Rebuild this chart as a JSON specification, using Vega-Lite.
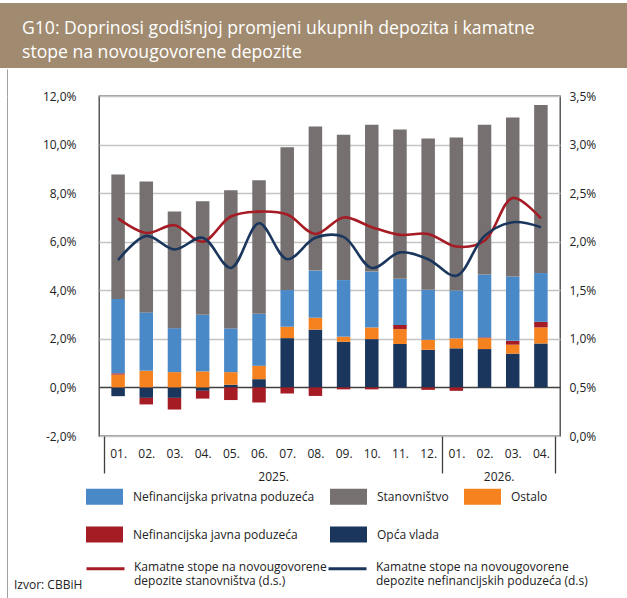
{
  "$schema": "https://vega.github.io/schema/vega-lite/v6.json",
  "padding": {"left": 0, "right": 0, "top": 3, "bottom": 0},
  "background": "white",
  "spacing": 0,
  "config": {
    "font": "Open Sans",
    "view": {"stroke": null},
    "axis": {"labelFont": "Open Sans", "labelFontSize": 12, "labelColor": "#222"},
    "legend": {"labelFont": "Open Sans", "labelFontSize": 12, "labelColor": "#222"}
  },
  "datasets": {
    "stupci": [
      {"i": 1, "sektor": "Opća vlada", "v": -0.36}, {"i": 1, "sektor": "Ostalo", "v": 0.53}, {"i": 1, "sektor": "Nefinancijska javna poduzeća", "v": 0.05}, {"i": 1, "sektor": "Nefinancijska privatna poduzeća", "v": 3.06}, {"i": 1, "sektor": "Stanovništvo", "v": 5.13},
      {"i": 2, "sektor": "Opća vlada", "v": -0.43}, {"i": 2, "sektor": "Ostalo", "v": 0.69}, {"i": 2, "sektor": "Nefinancijska javna poduzeća", "v": -0.27}, {"i": 2, "sektor": "Nefinancijska privatna poduzeća", "v": 2.40}, {"i": 2, "sektor": "Stanovništvo", "v": 5.39},
      {"i": 3, "sektor": "Opća vlada", "v": -0.43}, {"i": 3, "sektor": "Ostalo", "v": 0.63}, {"i": 3, "sektor": "Nefinancijska javna poduzeća", "v": -0.48}, {"i": 3, "sektor": "Nefinancijska privatna poduzeća", "v": 1.81}, {"i": 3, "sektor": "Stanovništvo", "v": 4.80},
      {"i": 4, "sektor": "Opća vlada", "v": -0.14}, {"i": 4, "sektor": "Ostalo", "v": 0.66}, {"i": 4, "sektor": "Nefinancijska javna poduzeća", "v": -0.32}, {"i": 4, "sektor": "Nefinancijska privatna poduzeća", "v": 2.33}, {"i": 4, "sektor": "Stanovništvo", "v": 4.68},
      {"i": 5, "sektor": "Opća vlada", "v": 0.11}, {"i": 5, "sektor": "Ostalo", "v": 0.52}, {"i": 5, "sektor": "Nefinancijska javna poduzeća", "v": -0.52}, {"i": 5, "sektor": "Nefinancijska privatna poduzeća", "v": 1.80}, {"i": 5, "sektor": "Stanovništvo", "v": 5.69},
      {"i": 6, "sektor": "Opća vlada", "v": 0.34}, {"i": 6, "sektor": "Ostalo", "v": 0.55}, {"i": 6, "sektor": "Nefinancijska javna poduzeća", "v": -0.62}, {"i": 6, "sektor": "Nefinancijska privatna poduzeća", "v": 2.14}, {"i": 6, "sektor": "Stanovništvo", "v": 5.50},
      {"i": 7, "sektor": "Opća vlada", "v": 2.03}, {"i": 7, "sektor": "Ostalo", "v": 0.47}, {"i": 7, "sektor": "Nefinancijska javna poduzeća", "v": -0.25}, {"i": 7, "sektor": "Nefinancijska privatna poduzeća", "v": 1.51}, {"i": 7, "sektor": "Stanovništvo", "v": 5.88},
      {"i": 8, "sektor": "Opća vlada", "v": 2.38}, {"i": 8, "sektor": "Ostalo", "v": 0.49}, {"i": 8, "sektor": "Nefinancijska javna poduzeća", "v": -0.35}, {"i": 8, "sektor": "Nefinancijska privatna poduzeća", "v": 1.94}, {"i": 8, "sektor": "Stanovništvo", "v": 5.93},
      {"i": 9, "sektor": "Opća vlada", "v": 1.88}, {"i": 9, "sektor": "Ostalo", "v": 0.21}, {"i": 9, "sektor": "Nefinancijska javna poduzeća", "v": -0.08}, {"i": 9, "sektor": "Nefinancijska privatna poduzeća", "v": 2.33}, {"i": 9, "sektor": "Stanovništvo", "v": 5.98},
      {"i": 10, "sektor": "Opća vlada", "v": 1.99}, {"i": 10, "sektor": "Ostalo", "v": 0.48}, {"i": 10, "sektor": "Nefinancijska javna poduzeća", "v": -0.08}, {"i": 10, "sektor": "Nefinancijska privatna poduzeća", "v": 2.30}, {"i": 10, "sektor": "Stanovništvo", "v": 6.05},
      {"i": 11, "sektor": "Opća vlada", "v": 1.79}, {"i": 11, "sektor": "Ostalo", "v": 0.61}, {"i": 11, "sektor": "Nefinancijska javna poduzeća", "v": 0.17}, {"i": 11, "sektor": "Nefinancijska privatna poduzeća", "v": 1.90}, {"i": 11, "sektor": "Stanovništvo", "v": 6.15},
      {"i": 12, "sektor": "Opća vlada", "v": 1.55}, {"i": 12, "sektor": "Ostalo", "v": 0.41}, {"i": 12, "sektor": "Nefinancijska javna poduzeća", "v": -0.10}, {"i": 12, "sektor": "Nefinancijska privatna poduzeća", "v": 2.06}, {"i": 12, "sektor": "Stanovništvo", "v": 6.23},
      {"i": 13, "sektor": "Opća vlada", "v": 1.61}, {"i": 13, "sektor": "Ostalo", "v": 0.41}, {"i": 13, "sektor": "Nefinancijska javna poduzeća", "v": -0.14}, {"i": 13, "sektor": "Nefinancijska privatna poduzeća", "v": 1.97}, {"i": 13, "sektor": "Stanovništvo", "v": 6.30},
      {"i": 14, "sektor": "Opća vlada", "v": 1.58}, {"i": 14, "sektor": "Ostalo", "v": 0.45}, {"i": 14, "sektor": "Nefinancijska javna poduzeća", "v": 0.03}, {"i": 14, "sektor": "Nefinancijska privatna poduzeća", "v": 2.59}, {"i": 14, "sektor": "Stanovništvo", "v": 6.17},
      {"i": 15, "sektor": "Opća vlada", "v": 1.39}, {"i": 15, "sektor": "Ostalo", "v": 0.37}, {"i": 15, "sektor": "Nefinancijska javna poduzeća", "v": 0.16}, {"i": 15, "sektor": "Nefinancijska privatna poduzeća", "v": 2.65}, {"i": 15, "sektor": "Stanovništvo", "v": 6.54},
      {"i": 16, "sektor": "Opća vlada", "v": 1.81}, {"i": 16, "sektor": "Ostalo", "v": 0.66}, {"i": 16, "sektor": "Nefinancijska javna poduzeća", "v": 0.23}, {"i": 16, "sektor": "Nefinancijska privatna poduzeća", "v": 2.01}, {"i": 16, "sektor": "Stanovništvo", "v": 6.92}
    ],
    "linije": [
      {"i": 1, "serija": "Kamatne stope na novougovorene depozite stanovništva (d.s.)", "r": 2.24},
      {"i": 2, "serija": "Kamatne stope na novougovorene depozite stanovništva (d.s.)", "r": 2.09},
      {"i": 3, "serija": "Kamatne stope na novougovorene depozite stanovništva (d.s.)", "r": 2.17},
      {"i": 4, "serija": "Kamatne stope na novougovorene depozite stanovništva (d.s.)", "r": 2.00},
      {"i": 5, "serija": "Kamatne stope na novougovorene depozite stanovništva (d.s.)", "r": 2.26},
      {"i": 6, "serija": "Kamatne stope na novougovorene depozite stanovništva (d.s.)", "r": 2.31},
      {"i": 7, "serija": "Kamatne stope na novougovorene depozite stanovništva (d.s.)", "r": 2.28},
      {"i": 8, "serija": "Kamatne stope na novougovorene depozite stanovništva (d.s.)", "r": 2.08},
      {"i": 9, "serija": "Kamatne stope na novougovorene depozite stanovništva (d.s.)", "r": 2.25},
      {"i": 10, "serija": "Kamatne stope na novougovorene depozite stanovništva (d.s.)", "r": 2.15},
      {"i": 11, "serija": "Kamatne stope na novougovorene depozite stanovništva (d.s.)", "r": 2.07},
      {"i": 12, "serija": "Kamatne stope na novougovorene depozite stanovništva (d.s.)", "r": 2.08},
      {"i": 13, "serija": "Kamatne stope na novougovorene depozite stanovništva (d.s.)", "r": 1.95},
      {"i": 14, "serija": "Kamatne stope na novougovorene depozite stanovništva (d.s.)", "r": 2.01},
      {"i": 15, "serija": "Kamatne stope na novougovorene depozite stanovništva (d.s.)", "r": 2.45},
      {"i": 16, "serija": "Kamatne stope na novougovorene depozite stanovništva (d.s.)", "r": 2.24},
      {"i": 1, "serija": "Kamatne stope na novougovorene depozite nefinancijskih poduzeća (d.s)", "r": 1.81},
      {"i": 2, "serija": "Kamatne stope na novougovorene depozite nefinancijskih poduzeća (d.s)", "r": 2.06},
      {"i": 3, "serija": "Kamatne stope na novougovorene depozite nefinancijskih poduzeća (d.s)", "r": 1.92},
      {"i": 4, "serija": "Kamatne stope na novougovorene depozite nefinancijskih poduzeća (d.s)", "r": 2.04},
      {"i": 5, "serija": "Kamatne stope na novougovorene depozite nefinancijskih poduzeća (d.s)", "r": 1.73},
      {"i": 6, "serija": "Kamatne stope na novougovorene depozite nefinancijskih poduzeća (d.s)", "r": 2.19},
      {"i": 7, "serija": "Kamatne stope na novougovorene depozite nefinancijskih poduzeća (d.s)", "r": 1.82},
      {"i": 8, "serija": "Kamatne stope na novougovorene depozite nefinancijskih poduzeća (d.s)", "r": 2.04},
      {"i": 9, "serija": "Kamatne stope na novougovorene depozite nefinancijskih poduzeća (d.s)", "r": 2.05},
      {"i": 10, "serija": "Kamatne stope na novougovorene depozite nefinancijskih poduzeća (d.s)", "r": 1.73},
      {"i": 11, "serija": "Kamatne stope na novougovorene depozite nefinancijskih poduzeća (d.s)", "r": 1.89},
      {"i": 12, "serija": "Kamatne stope na novougovorene depozite nefinancijskih poduzeća (d.s)", "r": 1.82},
      {"i": 13, "serija": "Kamatne stope na novougovorene depozite nefinancijskih poduzeća (d.s)", "r": 1.65},
      {"i": 14, "serija": "Kamatne stope na novougovorene depozite nefinancijskih poduzeća (d.s)", "r": 2.06},
      {"i": 15, "serija": "Kamatne stope na novougovorene depozite nefinancijskih poduzeća (d.s)", "r": 2.20},
      {"i": 16, "serija": "Kamatne stope na novougovorene depozite nefinancijskih poduzeća (d.s)", "r": 2.15}
    ]
  },
  "vconcat": [
    {
      "width": 627,
      "height": 65,
      "view": {"fill": "#A18B70", "stroke": null},
      "data": {"values": [{}]},
      "mark": {"type": "rect", "color": "#A18B70"},
      "encoding": {},
      "title": {
        "text": ["G10: Doprinosi godišnjoj promjeni ukupnih depozita i kamatne", "stope na novougovorene depozite"],
        "color": "white",
        "font": "Open Sans",
        "fontSize": 17.6,
        "fontWeight": "normal",
        "anchor": "start",
        "frame": "group",
        "orient": "top",
        "baseline": "top",
        "lineHeight": 24,
        "offset": -58.5,
        "dx": 22
      }
    },
    {
      "spacing": 0,
      "hconcat": [
        {
          "width": 7,
          "height": 503,
          "data": {"values": [{}]},
          "mark": {"type": "point", "opacity": 0, "size": 0},
          "encoding": {
            "x": {"datum": 0.5, "type": "quantitative", "scale": {"domain": [0, 1], "nice": false, "zero": false},
              "axis": {"orient": "top", "values": [1], "ticks": true, "tickSize": 27, "tickColor": "#A0A0A0", "tickWidth": 1, "labels": false, "domain": false, "grid": false, "title": null, "minExtent": 0}},
            "y": {"datum": 0.5, "type": "quantitative", "scale": {"domain": [0, 1], "nice": false, "zero": false},
              "axis": {"orient": "right", "domain": true, "domainColor": "#A0A0A0", "domainWidth": 1, "ticks": false, "labels": false, "grid": false, "title": null, "minExtent": 0}}
          }
        },
        {
          "width": 461,
          "height": 340,
          "view": {"stroke": "#404040", "strokeWidth": 1.3},
          "title": {
            "text": "Izvor: CBBiH",
            "orient": "bottom",
            "anchor": "start",
            "frame": "group",
            "fontSize": 12,
            "fontWeight": "normal",
            "color": "#222",
            "baseline": "top",
            "offset": 98,
            "dx": -85
          },
          "layer": [
            {
              "data": {"name": "stupci"},
              "transform": [
                {"calculate": "indexof(['Opća vlada', 'Ostalo', 'Nefinancijska javna poduzeća', 'Nefinancijska privatna poduzeća', 'Stanovništvo'], datum.sektor)", "as": "rang"}
              ],
              "mark": {"type": "bar", "width": 13.5},
              "encoding": {
                "x": {
                  "field": "i", "type": "quantitative",
                  "scale": {"domain": [0.5, 16.5], "nice": false, "zero": false},
                  "axis": {
                    "values": [1, 2, 3, 4, 5, 6, 7, 8, 9, 10, 11, 12, 13, 14, 15, 16],
                    "labelExpr": "(datum.value <= 12 ? (datum.value < 10 ? '0' + datum.value : '' + datum.value) : '0' + (datum.value - 12)) + '.'",
                    "ticks": false, "grid": false, "domain": false,
                    "labelPadding": 12, "title": null, "labelFlush": false, "labelOverlap": false
                  }
                },
                "y": {
                  "field": "v", "type": "quantitative", "stack": "zero",
                  "scale": {"domain": [-2, 12], "nice": false},
                  "axis": {
                    "values": [-2, 0, 2, 4, 6, 8, 10, 12],
                    "labelExpr": "(datum.value < 0 ? '-' : '') + replace(format(abs(datum.value), '.1f'), '.', ',') + '%'",
                    "ticks": false, "domain": false, "title": null,
                    "labelPadding": 23, "minExtent": 90,
                    "grid": true, "gridWidth": 1.5,
                    "gridColor": {"condition": {"test": "datum.value == 0", "value": "#404040"}, "value": "#C4C4C4"}
                  }
                },
                "color": {
                  "field": "sektor", "type": "nominal",
                  "scale": {
                    "domain": ["Nefinancijska privatna poduzeća", "Stanovništvo", "Ostalo", "Nefinancijska javna poduzeća", "Opća vlada"],
                    "range": ["#4A89C8", "#767070", "#F5821F", "#A51C24", "#1B365D"]
                  },
                  "legend": {
                    "orient": "none", "legendX": 86, "legendY": 475,
                    "columns": 3, "direction": "horizontal", "title": null,
                    "symbolType": "M-1,-0.43H1V0.43H-1Z", "symbolSize": 1369, "symbolStrokeWidth": 0,
                    "labelExpr": "datum.label == 'Stanovništvo' ? 'Stanovništvo\u00a0\u00a0\u00a0\u00a0\u00a0\u00a0\u00a0' : datum.label",
                    "labelOffset": 10, "columnPadding": 15, "rowPadding": 11, "gridAlign": "each", "labelLimit": 300
                  }
                },
                "order": {"field": "rang", "type": "quantitative"}
              }
            },
            {
              "data": {"name": "linije"},
              "mark": {"type": "line", "interpolate": "catmull-rom", "strokeWidth": 2.6},
              "encoding": {
                "x": {
                  "field": "i", "type": "quantitative",
                  "axis": {
                    "orient": "bottom",
                    "values": [0.5, 6.5, 12.5, 14.5, 16.5],
                    "labelExpr": "datum.value == 6.5 ? '2025.' : datum.value == 14.5 ? '2026.' : ''",
                    "ticks": true, "tickSize": 37, "tickWidth": 1.3,
                    "tickColor": {"condition": {"test": "datum.value == 6.5 || datum.value == 14.5", "value": "transparent"}, "value": "#404040"},
                    "domain": false, "grid": false, "labelPadding": -2, "title": null, "labelFlush": false, "labelOverlap": false
                  }
                },
                "y": {
                  "field": "r", "type": "quantitative",
                  "scale": {"domain": [0, 3.5], "nice": false},
                  "axis": {
                    "orient": "right",
                    "values": [0, 0.5, 1, 1.5, 2, 2.5, 3, 3.5],
                    "labelExpr": "replace(format(datum.value, '.1f'), '.', ',') + '%'",
                    "ticks": false, "domain": false, "grid": false, "title": null, "labelPadding": 9, "minExtent": 65
                  }
                },
                "stroke": {
                  "field": "serija", "type": "nominal",
                  "scale": {
                    "domain": ["Kamatne stope na novougovorene depozite stanovništva (d.s.)", "Kamatne stope na novougovorene depozite nefinancijskih poduzeća (d.s)"],
                    "range": ["#A51C24", "#1B365D"]
                  },
                  "legend": {
                    "orient": "none", "legendX": 85, "legendY": 538,
                    "columns": 2, "direction": "horizontal", "title": null,
                    "symbolType": "M-1,0.37L1,0.37", "symbolSize": 1444, "symbolStrokeWidth": 3,
                    "labelExpr": "[slice(datum.label, 0, 30), slice(datum.label, 31)]",
                    "labelBaseline": "top", "labelOffset": 8, "columnPadding": -7, "gridAlign": "each", "labelLimit": 300
                  }
                }
              }
            }
          ],
          "resolve": {"scale": {"y": "independent"}, "axis": {"x": "independent", "y": "independent"}}
        },
        {
          "width": 1,
          "height": 503,
          "data": {"values": [{}]},
          "mark": {"type": "point", "opacity": 0, "size": 0},
          "encoding": {
            "x": {"datum": 0.5, "type": "quantitative", "scale": {"domain": [0, 1], "nice": false, "zero": false},
              "axis": {"orient": "top", "values": [0], "ticks": true, "tickSize": 27, "tickColor": "#A0A0A0", "tickWidth": 1, "labels": false, "domain": false, "grid": false, "title": null, "minExtent": 0}},
            "y": {"datum": 0.5, "type": "quantitative", "scale": {"domain": [0, 1], "nice": false, "zero": false},
              "axis": {"orient": "left", "domain": true, "domainColor": "#A0A0A0", "domainWidth": 1, "ticks": false, "labels": false, "grid": false, "title": null, "minExtent": 0}}
          }
        }
      ]
    }
  ]
}
